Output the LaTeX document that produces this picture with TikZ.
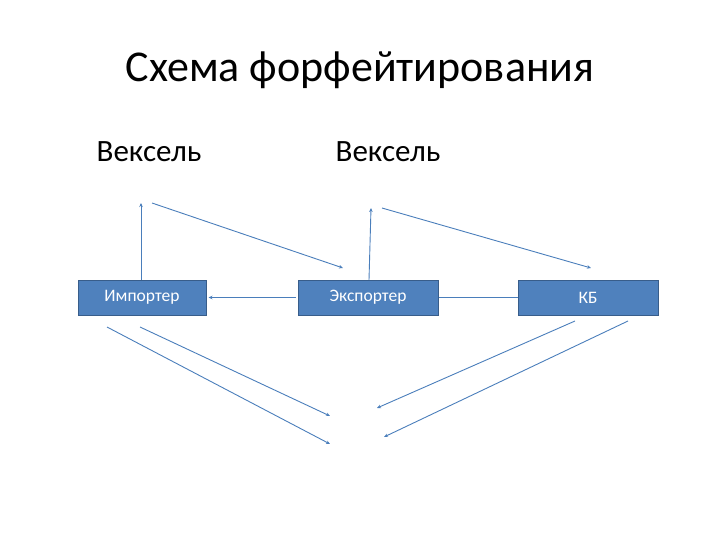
\documentclass[tikz,border=0pt]{standalone}
\usepackage{fontspec}
\setmainfont{Carlito}
\usetikzlibrary{arrows.meta}
\definecolor{boxfill}{HTML}{4F81BD}
\definecolor{boxline}{HTML}{385D8A}
\definecolor{arr}{HTML}{4A7EBB}
\begin{document}
\begin{tikzpicture}[x=1pt,y=-1pt,
  box/.style={draw=boxline,fill=boxfill,text=white,minimum width=128pt,minimum height=35pt,inner sep=0pt,font=\fontsize{17.5}{20}\selectfont,line width=1pt},
  conn/.style={draw=arr,line width=0.9pt,-{Stealth[length=4pt,width=3.5pt]}}]
\useasboundingbox (0,0) rectangle (720,540);
\node[font=\fontsize{44}{50}\selectfont] (title) at (360,70) {Схема форфейтирования};
\node[font=\fontsize{31}{36}\selectfont] (v1) at (149,152) {Вексель};
\node[font=\fontsize{31}{36}\selectfont] (v2) at (388,152) {Вексель};
\node[box,minimum width=128pt] (imp) at (142,297.5) {Импортер};
\node[box,minimum width=140pt] (exp) at (368,297.5) {Экспортер};
\node[box,minimum width=140pt] (kb) at (588,297.5) {КБ};
\coordinate (a1) at (141,203);
\coordinate (a2s) at (152,203);
\coordinate (a2e) at (343,268);
\coordinate (a3) at (371,208);
\coordinate (a4s) at (382,208);
\coordinate (a4e) at (591,268);
\coordinate (b1s) at (140,327);
\coordinate (b1e) at (330,416);
\coordinate (b2s) at (107,327);
\coordinate (b2e) at (330,444);
\coordinate (b3s) at (575,321);
\coordinate (b3e) at (377,408);
\coordinate (b4s) at (628,321);
\coordinate (b4e) at (384,437);
\draw[conn] (imp.north -| a1) -- (a1);
\draw[conn] (a2s) -- (a2e);
\draw[conn] (369,280) -- (a3);
\draw[conn] (a4s) -- (a4e);
\draw[conn] ([xshift=-2pt]exp.west) -- ([xshift=2pt]imp.east);
\draw[draw=arr,line width=1.2pt] (exp.east) -- (kb.west);
\draw[conn] (b1s) -- (b1e);
\draw[conn] (b2s) -- (b2e);
\draw[conn] (b3s) -- (b3e);
\draw[conn] (b4s) -- (b4e);
\end{tikzpicture}
\end{document}
